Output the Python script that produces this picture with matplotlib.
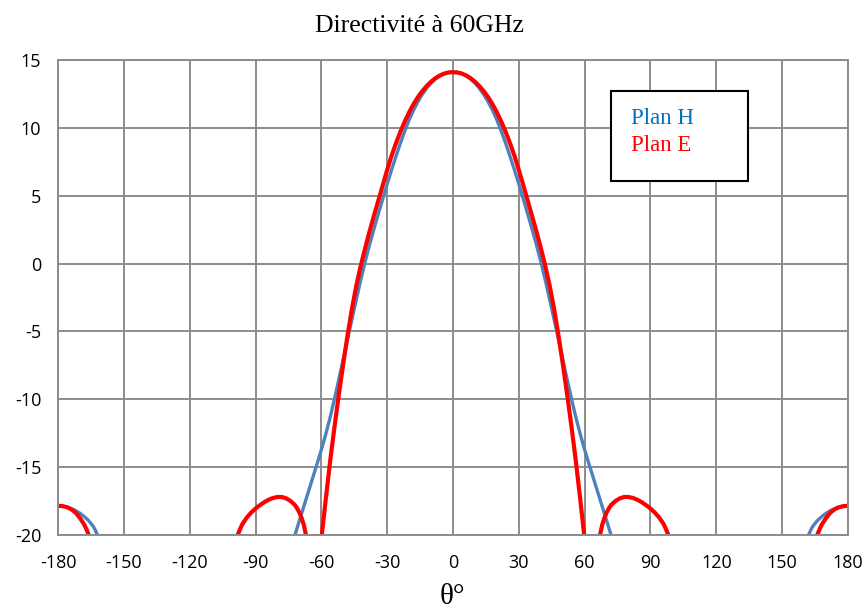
import matplotlib.pyplot as plt
from matplotlib.patches import Rectangle

plt.rcParams["axes.unicode_minus"] = False

# Plan H (blue) - angle in degrees, directivity in dBi (below -20 = off chart)
theta_h = [-180, -178, -175, -172, -170, -168, -166, -164, -163, -162, -161, -160,
           -120,
           -74, -72, -70, -68, -66, -64, -62, -60, -58, -56, -54, -52, -50, -48, -46, -44,
           -42, -40, -38, -36, -34, -32, -30, -28, -26, -24, -22, -20, -18, -16, -14, -12,
           -10, -8, -6, -4, -2, 0,
           2, 4, 6, 8, 10, 12, 14, 16, 18, 20, 22, 24, 26, 28, 30, 32, 34, 36, 38, 40,
           42, 44, 46, 48, 50, 52, 54, 56, 58, 60, 62, 64, 66, 68, 70, 72, 74,
           120,
           160, 161, 162, 163, 164, 166, 168, 170, 172, 175, 178, 180]
gain_h = [-17.85, -17.87, -17.98, -18.2, -18.4, -18.65, -18.95, -19.35, -19.65, -20.0, -20.5, -21.1,
          -30,
          -21.0, -19.98, -18.94, -17.9, -16.86, -15.82, -14.78, -13.72, -12.58, -11.34, -9.96, -8.52, -7.04, -5.54, -4.06, -2.6,
          -1.18, 0.16, 1.4, 2.56, 3.68, 4.78, 5.86, 6.9, 7.9, 8.86, 9.76, 10.58, 11.3, 11.92, 12.46, 12.92,
          13.3, 13.6, 13.83, 13.99, 14.08, 14.1,
          14.08, 13.99, 13.83, 13.6, 13.3, 12.92, 12.46, 11.92, 11.3, 10.58, 9.76, 8.86, 7.9, 6.9, 5.86, 4.78, 3.68, 2.56, 1.4, 0.16,
          -1.18, -2.6, -4.06, -5.54, -7.04, -8.52, -9.96, -11.34, -12.58, -13.72, -14.78, -15.82, -16.86, -17.9, -18.94, -19.98, -21.0,
          -30,
          -21.1, -20.5, -20.0, -19.65, -19.35, -18.95, -18.65, -18.4, -18.2, -17.98, -17.87, -17.85]

# Plan E (red)
theta_e = [-180, -178, -176, -174, -172, -170, -168, -167, -166, -165, -164,
           -130,
           -100, -99, -98, -97, -96, -94, -92, -90, -88, -86, -84, -82, -80, -78, -76, -74,
           -72, -71, -70, -69, -68, -67, -66,
           -63.5,
           -61, -60, -58, -56, -54, -52, -50, -48, -46, -44, -42, -40, -38, -36, -34, -32,
           -30, -28, -26, -24, -22, -20, -18, -16, -14, -12, -10, -8, -6, -4, -2, 0,
           2, 4, 6, 8, 10, 12, 14, 16, 18, 20, 22, 24, 26, 28, 30, 32, 34, 36, 38, 40,
           42, 44, 46, 48, 50, 52, 54, 56, 58, 60, 61,
           63.5,
           66, 67, 68, 69, 70, 71, 72, 74, 76, 78, 80, 82, 84, 86, 88, 90, 92, 94, 96,
           97, 98, 99, 100,
           130,
           164, 165, 166, 167, 168, 170, 172, 174, 176, 178, 180]
gain_e = [-17.85, -17.87, -17.95, -18.1, -18.35, -18.75, -19.25, -19.6, -20.0, -20.55, -21.2,
          -30,
          -21.0, -20.45, -19.95, -19.55, -19.2, -18.72, -18.35, -18.05, -17.8, -17.58, -17.4, -17.27, -17.2, -17.2, -17.3, -17.5,
          -17.8, -18.05, -18.35, -18.75, -19.25, -20.0, -21.2,
          -30,
          -22.0, -20.3, -17.38, -14.58, -12.02, -9.62, -7.36, -5.22, -3.28, -1.58, -0.14, 1.16, 2.38, 3.54, 4.66, 5.8,
          6.9, 7.94, 8.86, 9.7, 10.46, 11.14, 11.74, 12.26, 12.7, 13.08, 13.4, 13.66, 13.86, 14.0, 14.08, 14.1,
          14.08, 14.0, 13.86, 13.66, 13.4, 13.08, 12.7, 12.26, 11.74, 11.14, 10.46, 9.7, 8.86, 7.94, 6.9, 5.8, 4.66, 3.54, 2.38, 1.16,
          -0.14, -1.58, -3.28, -5.22, -7.36, -9.62, -12.02, -14.58, -17.38, -20.3, -22.0,
          -30,
          -21.2, -20.0, -19.25, -18.75, -18.35, -18.05, -17.8, -17.5, -17.3, -17.2, -17.2, -17.27, -17.4, -17.58, -17.8, -18.05, -18.35, -18.72, -19.2,
          -19.55, -19.95, -20.45, -21.0,
          -30,
          -21.2, -20.55, -20.0, -19.6, -19.25, -18.75, -18.35, -18.1, -17.95, -17.87, -17.85]

x_ticks = list(range(-180, 181, 30))
y_ticks = list(range(-20, 16, 5))

grid_col = "#8c8c8c"

fig = plt.figure(figsize=(8.65, 6.12), dpi=100)
ax = fig.add_axes([0.0671, 0.1258, 0.9132, 0.7762])

ax.plot(theta_h, gain_h, color="#4f81bd", lw=2.4, solid_joinstyle="round")
ax.plot(theta_e, gain_e, color="#ff0000", lw=3.0, solid_joinstyle="round")

ax.set_xlim(-180, 180)
ax.set_ylim(-20, 15)
ax.set_xticks(x_ticks)
ax.set_yticks(y_ticks)
ax.tick_params(length=0, labelsize=13)
ax.tick_params(axis="x", pad=14)
ax.tick_params(axis="y", pad=12)
for lab in ax.get_xticklabels() + ax.get_yticklabels():
    lab.set_fontfamily("Open Sans")
ax.grid(True, color=grid_col, lw=1.4)
ax.set_axisbelow(True)
for s in ax.spines.values():
    s.set_color(grid_col)
    s.set_linewidth(1.4)

# legend box (text in the series colours, as in the original)
ax.add_patch(Rectangle((0.700, 0.745), 0.173, 0.19, transform=ax.transAxes,
                       facecolor="white", edgecolor="black", lw=1.5, zorder=5))
ax.text(0.725, 0.865, "Plan H", transform=ax.transAxes, color="#0070c0",
        fontsize=16.5, family="Liberation Serif", va="baseline", zorder=6)
ax.text(0.725, 0.808, "Plan E", transform=ax.transAxes, color="#ff0000",
        fontsize=16.5, family="Liberation Serif", va="baseline", zorder=6)

fig.text(0.485, 0.948, "Directivité à 60GHz", ha="center", va="baseline",
         fontsize=18.5, family="Liberation Serif")
fig.text(0.523, 0.013, "θ°", ha="center", va="baseline",
         fontsize=21, family="Liberation Serif")

fig.savefig("out.png", dpi=100)
